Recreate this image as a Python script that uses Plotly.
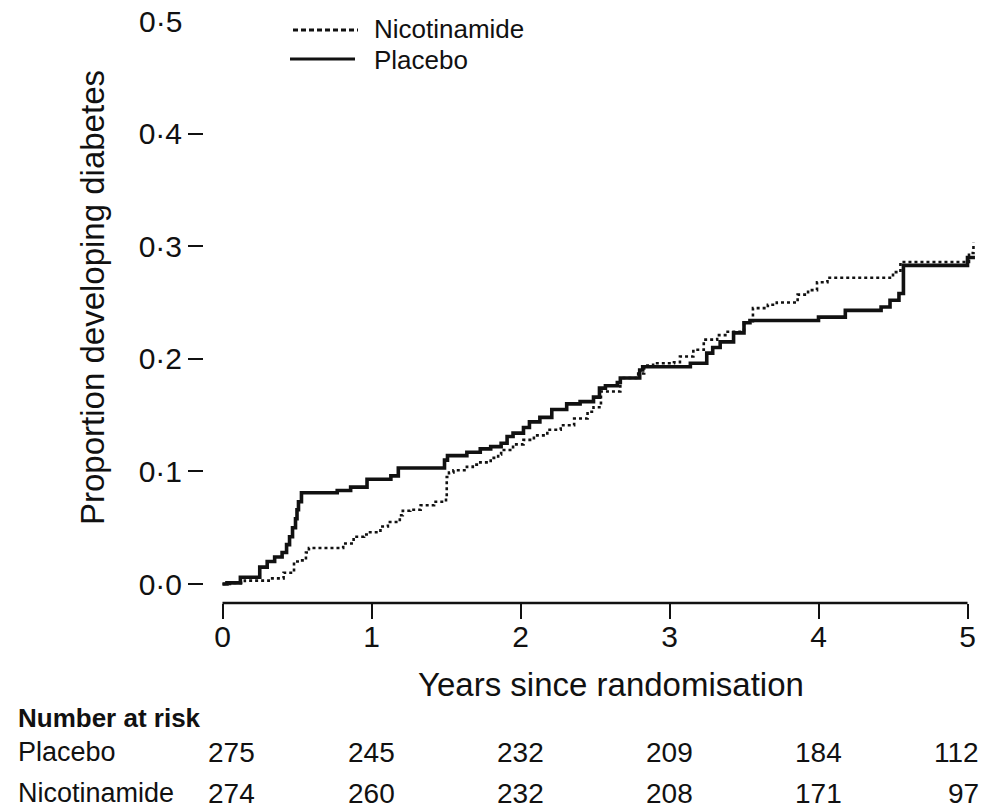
import plotly.graph_objects as go

# Kaplan-Meier style cumulative incidence (years since randomisation, proportion)
placebo_t = [0, 0.03, 0.12, 0.25, 0.30, 0.35, 0.40, 0.43, 0.45, 0.47, 0.49, 0.50, 0.51, 0.53,
             0.77, 0.86, 0.97, 1.13, 1.18, 1.49, 1.51, 1.64, 1.73, 1.80, 1.87, 1.91, 1.95,
             2.02, 2.06, 2.13, 2.21, 2.31, 2.40, 2.49, 2.53, 2.57, 2.65, 2.67, 2.80, 2.82,
             3.14, 3.25, 3.29, 3.34, 3.43, 3.50, 3.54, 4.00, 4.18, 4.42, 4.48, 4.54, 4.57,
             5.00, 5.05]
placebo_p = [0.0, 0.001, 0.006, 0.015, 0.020, 0.024, 0.028, 0.035, 0.042, 0.050, 0.058, 0.066,
             0.073, 0.081, 0.083, 0.086, 0.093, 0.096, 0.103, 0.110, 0.114, 0.117, 0.120,
             0.122, 0.125, 0.131, 0.134, 0.139, 0.144, 0.148, 0.155, 0.160, 0.162, 0.166,
             0.174, 0.176, 0.179, 0.183, 0.190, 0.193, 0.196, 0.205, 0.210, 0.215, 0.223,
             0.232, 0.234, 0.237, 0.243, 0.246, 0.252, 0.258, 0.283, 0.290, 0.290]

nicotinamide_t = [0, 0.05, 0.15, 0.31, 0.41, 0.47, 0.48, 0.52, 0.56, 0.58, 0.81, 0.88, 0.95,
                  0.99, 1.06, 1.11, 1.19, 1.21, 1.26, 1.33, 1.42, 1.50, 1.505, 1.52, 1.55,
                  1.64, 1.68, 1.73, 1.80, 1.85, 1.87, 1.95, 2.02, 2.09, 2.18, 2.27, 2.36,
                  2.45, 2.49, 2.54, 2.67, 2.79, 2.83, 2.89, 3.03, 3.07, 3.16, 3.23, 3.32,
                  3.39, 3.50, 3.56, 3.66, 3.72, 3.86, 3.93, 3.99, 4.06, 4.50, 4.55, 5.01,
                  5.04]
nicotinamide_p = [0.0, 0.001, 0.003, 0.005, 0.010, 0.011, 0.020, 0.021, 0.028, 0.032, 0.036,
                  0.042, 0.044, 0.046, 0.051, 0.055, 0.061, 0.065, 0.066, 0.070, 0.073,
                  0.077, 0.095, 0.099, 0.101, 0.104, 0.106, 0.108, 0.112, 0.115, 0.119,
                  0.124, 0.128, 0.132, 0.137, 0.141, 0.147, 0.153, 0.157, 0.171, 0.183,
                  0.187, 0.194, 0.196, 0.197, 0.202, 0.208, 0.217, 0.221, 0.224, 0.232,
                  0.245, 0.248, 0.250, 0.257, 0.261, 0.268, 0.272, 0.277, 0.286, 0.294,
                  0.303]

# Axis ticks
x_ticks = [0, 1, 2, 3, 4, 5]
x_tick_labels = ["0", "1", "2", "3", "4", "5"]
y_ticks = [0.0, 0.1, 0.2, 0.3, 0.4, 0.5]
y_tick_labels = ["0·0", "0·1", "0·2", "0·3", "0·4", "0·5"]

# Number at risk table
risk_years = [0, 1, 2, 3, 4, 5]
risk_placebo = [275, 245, 232, 209, 184, 112]
risk_nicotinamide = [274, 260, 232, 208, 171, 97]

W, H = 987, 809
M_T, M_B = 10, 206
PLOT_H = H - M_T - M_B
FONT = "Liberation Sans"
INK = "#111111"


def px(xp):
    return xp / W


def py(yp):
    return (H - M_B - yp) / PLOT_H


fig = go.Figure()

fig.add_trace(go.Scatter(
    x=nicotinamide_t, y=nicotinamide_p, mode="lines", line_shape="hv",
    line=dict(color=INK, width=2.6, dash="3px,3px"), name="Nicotinamide",
    showlegend=False, cliponaxis=False))
fig.add_trace(go.Scatter(
    x=placebo_t, y=placebo_p, mode="lines", line_shape="hv",
    line=dict(color=INK, width=3.6), name="Placebo",
    showlegend=False, cliponaxis=False))

shapes = [
    # x axis line spanning years 0-5
    dict(type="line", xref="x", yref="paper", x0=0, x1=5, y0=0, y1=0,
         line=dict(color=INK, width=2.5)),
    # legend samples
    dict(type="line", xref="paper", yref="paper", x0=px(293), x1=px(358),
         y0=py(30), y1=py(30), line=dict(color=INK, width=3, dash="5px,3px")),
    dict(type="line", xref="paper", yref="paper", x0=px(290), x1=px(355),
         y0=py(59), y1=py(59), line=dict(color=INK, width=3.2)),
]

annotations = [
    dict(text="Nicotinamide", xref="paper", yref="paper", x=px(372), y=py(29),
         xanchor="left", yanchor="middle", showarrow=False,
         font=dict(size=26, family=FONT, color=INK)),
    dict(text="Placebo", xref="paper", yref="paper", x=px(372), y=py(60),
         xanchor="left", yanchor="middle", showarrow=False,
         font=dict(size=26, family=FONT, color=INK)),
    dict(text="Proportion developing diabetes", xref="paper", yref="paper",
         x=px(92), y=py(298), textangle=-90, xanchor="center", yanchor="middle",
         showarrow=False, font=dict(size=33, family=FONT, color=INK)),
    dict(text=y_tick_labels[-1], xref="paper", yref="y", x=px(184), y=y_ticks[-1],
         xanchor="right", yanchor="middle", showarrow=False,
         font=dict(size=30, family=FONT, color=INK)),
    dict(text="Years since randomisation", xref="paper", yref="paper",
         x=px(611), y=py(684), xanchor="center", yanchor="middle", showarrow=False,
         font=dict(size=33, family=FONT, color=INK)),
    dict(text="<b>Number at risk</b>", xref="paper", yref="paper", x=px(16), y=py(718),
         xanchor="left", yanchor="middle", showarrow=False,
         font=dict(size=26, family=FONT, color=INK)),
    dict(text="Placebo", xref="paper", yref="paper", x=px(16), y=py(752),
         xanchor="left", yanchor="middle", showarrow=False,
         font=dict(size=27, family=FONT, color=INK)),
    dict(text="Nicotinamide", xref="paper", yref="paper", x=px(16), y=py(793),
         xanchor="left", yanchor="middle", showarrow=False,
         font=dict(size=27, family=FONT, color=INK)),
]

last = len(risk_years) - 1
for i, (yr, a, b) in enumerate(zip(risk_years, risk_placebo, risk_nicotinamide)):
    if i == 0:
        anchor, shift = "left", -17
    elif i == last:
        anchor, shift = "right", 13
    else:
        anchor, shift = "center", 0
    for val, row_y in ((a, 752), (b, 793)):
        annotations.append(dict(
            text=str(val), xref="x", yref="paper", x=yr, y=py(row_y),
            xanchor=anchor, xshift=shift, yanchor="middle", showarrow=False,
            font=dict(size=28, family=FONT, color=INK)))

y0_px, per_tenth = 584, 112.6
y_lo = (y0_px - (H - M_B)) / (per_tenth * 10)
y_hi = (y0_px - M_T) / (per_tenth * 10)
x0_px, per_year = 222.5, 149.0
plot_left, plot_right = 212, 982
x_lo = (plot_left - x0_px) / per_year
x_hi = (plot_right - x0_px) / per_year

fig.update_layout(
    width=W, height=H,
    margin=dict(l=0, r=0, t=M_T, b=M_B, pad=0),
    paper_bgcolor="white", plot_bgcolor="white",
    font=dict(family=FONT, color=INK),
    showlegend=False,
    xaxis=dict(
        domain=[px(plot_left), px(plot_right)], range=[x_lo, x_hi],
        showline=False, showgrid=False, zeroline=False,
        tickmode="array", tickvals=x_ticks, ticktext=x_tick_labels,
        ticks="outside", ticklen=15, tickwidth=2.2, tickcolor=INK,
        ticklabelstandoff=-8,
        tickfont=dict(size=30, family=FONT, color=INK),
        automargin=False,
    ),
    yaxis=dict(
        anchor="free", position=px(203), range=[y_lo, y_hi],
        showline=False, showgrid=False, zeroline=False,
        tickmode="array", tickvals=y_ticks[:-1], ticktext=y_tick_labels[:-1],
        ticks="outside", ticklen=15, tickwidth=2, tickcolor=INK,
        tickfont=dict(size=30, family=FONT, color=INK),
        automargin=False,
    ),
    shapes=shapes,
    annotations=annotations,
)

fig.write_html("out.html")
